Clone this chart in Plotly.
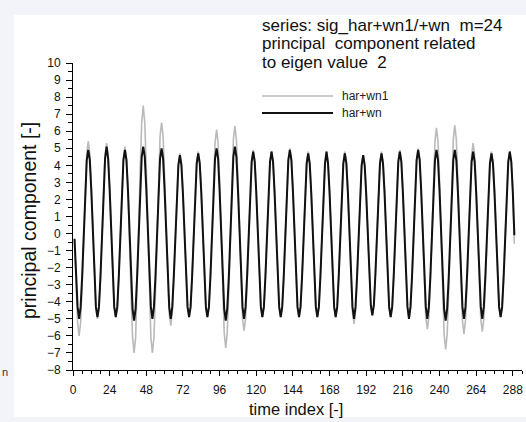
import plotly.graph_objects as go

# time index of the samples
time_index = list(range(1, 290))

# principal component, series har+wn1 (grey)
har_wn1 = [
    -0.4, -3.0, -5.2, -6.0,
    -5.2, -3.0, -0.3, 2.7, 4.7, 5.4,
    4.7, 2.7, 0.2, -2.5, -4.3, -5.0,
    -4.3, -2.5, 0.1, 2.7, 4.6, 5.3,
    4.6, 2.7, 0.2, -2.5, -4.3, -4.9,
    -4.3, -2.5, 0.1, 2.6, 4.4, 5.1,
    4.4, 2.6, -0.9, -3.5, -6.1, -7.0,
    -6.1, -3.5, 0.3, 3.8, 6.5, 7.5,
    6.5, 3.8, 0.3, -3.5, -6.1, -7.0,
    -6.1, -3.5, -0.2, 3.3, 5.7, 6.5,
    5.7, 3.3, 0.6, -2.7, -4.7, -5.4,
    -4.7, -2.7, -0.4, 2.4, 4.1, 4.7,
    4.1, 2.4, -0.1, -2.5, -4.3, -4.9,
    -4.3, -2.5, 0.0, 2.4, 4.2, 4.8,
    4.2, 2.4, 0.0, -2.5, -4.3, -4.9,
    -4.3, -2.5, 0.6, 3.1, 5.3, 6.1,
    5.3, 3.1, -0.3, -3.4, -5.8, -6.7,
    -5.8, -3.4, -0.2, 3.2, 5.5, 6.3,
    5.5, 3.2, 0.3, -2.9, -5.0, -5.7,
    -5.0, -2.9, -0.4, 2.5, 4.3, 4.9,
    4.3, 2.5, 0.0, -2.5, -4.3, -4.9,
    -4.3, -2.5, 0.0, 2.4, 4.2, 4.85,
    4.2, 2.4, 0.0, -2.5, -4.3, -4.9,
    -4.3, -2.5, 0.0, 2.5, 4.4, 5.0,
    4.4, 2.5, 0.0, -2.5, -4.3, -4.9,
    -4.3, -2.5, 0.0, 2.4, 4.2, 4.8,
    4.2, 2.4, 0.0, -2.5, -4.3, -4.9,
    -4.3, -2.5, 0.0, 2.4, 4.2, 4.8,
    4.2, 2.4, 0.0, -2.5, -4.3, -4.9,
    -4.3, -2.5, 0.0, 2.4, 4.2, 4.8,
    4.2, 2.4, -0.2, -2.7, -4.6, -5.3,
    -4.6, -2.7, -0.3, 2.3, 4.0, 4.6,
    4.0, 2.3, -0.1, -2.4, -4.2, -4.8,
    -4.2, -2.4, 0.0, 2.4, 4.2, 4.8,
    4.2, 2.4, 0.0, -2.5, -4.3, -4.9,
    -4.3, -2.5, 0.0, 2.5, 4.3, 4.9,
    4.3, 2.5, 0.0, -2.5, -4.3, -5.0,
    -4.3, -2.5, 0.0, 2.5, 4.4, 5.0,
    4.4, 2.5, -0.3, -2.8, -4.9, -5.6,
    -4.9, -2.8, 0.3, 3.1, 5.4, 6.2,
    5.4, 3.1, -0.3, -3.4, -5.9, -6.8,
    -5.9, -3.4, -0.2, 3.2, 5.5, 6.35,
    5.5, 3.2, 0.2, -3.0, -5.1, -5.9,
    -5.1, -3.0, -0.3, 2.7, 4.6, 5.3,
    4.6, 2.7, -0.2, -2.9, -5.0, -5.75,
    -5.0, -2.9, -0.5, 2.4, 4.2, 4.8,
    4.2, 2.4, 0.0, -2.5, -4.3, -4.9,
    -4.3, -2.5, 0.0, 2.4, 4.2, 4.85,
    4.2, 2.4, -0.6,
]

# principal component, series har+wn (black)
har_wn = [
    -0.3, -2.5, -4.3, -5.0,
    -4.3, -2.5, 0.0, 2.5, 4.3, 4.9,
    4.3, 2.5, 0.0, -2.5, -4.3, -4.9,
    -4.3, -2.5, 0.1, 2.6, 4.4, 5.1,
    4.4, 2.6, 0.1, -2.5, -4.3, -4.9,
    -4.3, -2.5, 0.0, 2.5, 4.3, 4.9,
    4.3, 2.5, 0.0, -2.5, -4.4, -5.1,
    -4.4, -2.5, 0.0, 2.6, 4.5, 5.1,
    4.5, 2.6, 0.1, -2.5, -4.3, -5.0,
    -4.3, -2.5, 0.0, 2.5, 4.4, 5.0,
    4.4, 2.5, 0.0, -2.5, -4.3, -5.0,
    -4.3, -2.5, -0.2, 2.3, 4.0, 4.6,
    4.0, 2.3, -0.1, -2.5, -4.3, -4.9,
    -4.3, -2.5, -0.1, 2.4, 4.1, 4.7,
    4.1, 2.4, -0.1, -2.5, -4.3, -4.9,
    -4.3, -2.5, 0.1, 2.5, 4.4, 5.0,
    4.4, 2.5, 0.0, -2.6, -4.4, -5.1,
    -4.4, -2.6, 0.0, 2.6, 4.5, 5.1,
    4.5, 2.6, 0.1, -2.5, -4.3, -5.0,
    -4.3, -2.5, -0.1, 2.4, 4.2, 4.8,
    4.2, 2.4, 0.0, -2.5, -4.3, -4.9,
    -4.3, -2.5, 0.0, 2.4, 4.2, 4.8,
    4.2, 2.4, 0.0, -2.5, -4.3, -4.9,
    -4.3, -2.5, 0.0, 2.5, 4.3, 4.9,
    4.3, 2.5, 0.0, -2.5, -4.3, -4.9,
    -4.3, -2.5, -0.1, 2.4, 4.1, 4.7,
    4.1, 2.4, -0.1, -2.5, -4.3, -4.9,
    -4.3, -2.5, -0.1, 2.4, 4.1, 4.8,
    4.1, 2.4, -0.1, -2.5, -4.3, -4.9,
    -4.3, -2.5, -0.1, 2.4, 4.1, 4.7,
    4.1, 2.4, -0.1, -2.5, -4.3, -5.0,
    -4.3, -2.5, -0.2, 2.3, 4.0, 4.6,
    4.0, 2.3, -0.1, -2.4, -4.2, -4.8,
    -4.2, -2.4, 0.0, 2.4, 4.1, 4.7,
    4.1, 2.4, -0.1, -2.5, -4.3, -4.9,
    -4.3, -2.5, 0.0, 2.4, 4.2, 4.8,
    4.2, 2.4, -0.1, -2.5, -4.3, -5.0,
    -4.3, -2.5, 0.0, 2.5, 4.3, 4.9,
    4.3, 2.5, 0.0, -2.5, -4.3, -5.0,
    -4.3, -2.5, 0.0, 2.5, 4.3, 4.9,
    4.3, 2.5, 0.0, -2.6, -4.4, -5.1,
    -4.4, -2.6, 0.0, 2.5, 4.3, 4.9,
    4.3, 2.5, 0.0, -2.5, -4.3, -5.0,
    -4.3, -2.5, -0.1, 2.4, 4.2, 4.8,
    4.2, 2.4, -0.1, -2.5, -4.3, -5.0,
    -4.3, -2.5, -0.1, 2.4, 4.1, 4.7,
    4.1, 2.4, -0.1, -2.5, -4.3, -4.9,
    -4.3, -2.5, 0.0, 2.4, 4.2, 4.8,
    4.2, 2.4, -0.1,
]

series_names = ["har+wn1", "har+wn"]
x_ticks = list(range(0, 289, 24))
y_ticks = list(range(-8, 11, 1))
title_lines = [
    "series: sig_har+wn1/+wn\u00a0\u00a0m=24",
    "principal\u00a0\u00a0component related",
    "to eigen value\u00a0\u00a02",
]

FONT = "Arial, 'Liberation Sans', sans-serif"
W, H = 526, 422
L, R, T, B = 73, 4, 63, 52
PW, PH = W - L - R, H - T - B


def px(x):
    return (x - L) / PW


def py(y):
    return (H - B - y) / PH


fig = go.Figure()
fig.add_trace(go.Scatter(x=time_index, y=har_wn1, mode="lines", name=series_names[0],
                         line=dict(color="#bababa", width=1.6), showlegend=False))
fig.add_trace(go.Scatter(x=time_index, y=har_wn, mode="lines", name=series_names[1],
                         line=dict(color="#111111", width=2), showlegend=False))

shapes = [
    dict(type="rect", xref="paper", yref="paper", x0=px(14), x1=px(526), y0=py(417), y1=py(15),
         fillcolor="white", line=dict(width=0), layer="below"),
    dict(type="line", xref="paper", yref="paper", x0=px(262), x1=px(333), y0=py(96), y1=py(96),
         line=dict(color="#bababa", width=1.6)),
    dict(type="line", xref="paper", yref="paper", x0=px(262), x1=px(333), y0=py(113), y1=py(113),
         line=dict(color="#111111", width=2)),
]

annotations = []
for i, line in enumerate(title_lines):
    annotations.append(dict(text=line, xref="paper", yref="paper", x=px(260), y=py(26 + 18 * i),
                            xanchor="left", yanchor="middle", showarrow=False,
                            font=dict(family=FONT, size=17, color="#111111")))
for i, nm in enumerate(series_names):
    annotations.append(dict(text=nm, xref="paper", yref="paper", x=px(340), y=py(96 + 17 * i),
                            xanchor="left", yanchor="middle", showarrow=False,
                            font=dict(family=FONT, size=12, color="#222222")))
annotations.append(dict(text="time index [-]", xref="paper", yref="paper", x=px(296), y=py(409),
                        xanchor="center", yanchor="middle", showarrow=False,
                        font=dict(family=FONT, size=16.5, color="#111111")))
annotations.append(dict(text="principal component [-]", xref="paper", yref="paper", x=px(29), y=py(221),
                        xanchor="center", yanchor="middle", showarrow=False, textangle=-90,
                        font=dict(family=FONT, size=19.5, color="#111111")))
annotations.append(dict(text="n", xref="paper", yref="paper", x=px(0), y=py(372),
                        xanchor="left", yanchor="middle", showarrow=False,
                        font=dict(family=FONT, size=11, color="#333333")))

fig.update_layout(
    width=W, height=H,
    margin=dict(l=L, r=R, t=T, b=B, pad=0),
    paper_bgcolor="#f3f4f9",
    plot_bgcolor="white",
    font=dict(family=FONT, size=12, color="#111111"),
    shapes=shapes,
    annotations=annotations,
    showlegend=False,
)
fig.update_xaxes(
    range=[0, 294], tickvals=x_ticks, ticks="outside", ticklen=5, tickcolor="black",
    showline=True, linecolor="black", linewidth=1, showgrid=False, zeroline=False,
    tickfont=dict(family=FONT, size=12, color="#111111"), ticklabelstandoff=4,
    minor=dict(dtick=6, tick0=0, ticks="outside", ticklen=3, tickcolor="black", showgrid=False),
)
fig.update_yaxes(
    range=[-8, 10], tickvals=y_ticks, ticks="outside", ticklen=6, tickcolor="black",
    showline=True, linecolor="black", linewidth=1, showgrid=False, zeroline=False,
    tickfont=dict(family=FONT, size=12, color="#111111"), ticklabelstandoff=3,
    minor=dict(dtick=0.5, tick0=0, ticks="outside", ticklen=4, tickcolor="black", showgrid=False),
)

fig.write_html(
    "out.html",
    config={"displayModeBar": False},
    post_script="document.body.style.margin='0';document.body.style.overflow='hidden';",
)
